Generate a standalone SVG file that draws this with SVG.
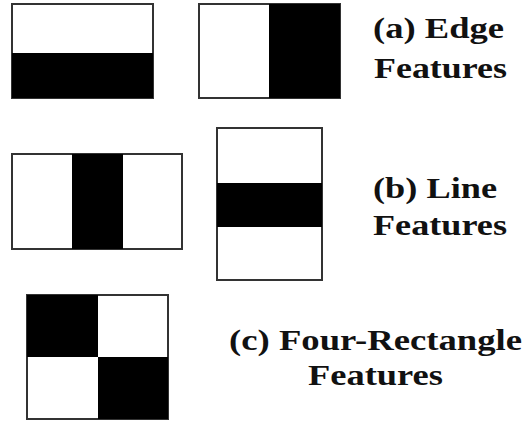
<svg xmlns="http://www.w3.org/2000/svg" width="524" height="421" viewBox="0 0 524 421">
<style>
.box{fill:#fff;stroke:#333;stroke-width:2}
.blk{fill:#000}
.lbl{font-family:"Liberation Serif","Times New Roman",serif;font-weight:bold;font-size:29px;fill:#111}
</style>
<rect width="524" height="421" fill="#fff"/>
<g id="edge-h">
<rect class="box" x="12" y="4" width="141" height="94"/>
<rect class="blk" x="12" y="53" width="141" height="45"/>
</g>
<g id="edge-v">
<rect class="box" x="199" y="4" width="141" height="94"/>
<rect class="blk" x="269" y="4" width="71" height="94"/>
</g>
<g id="line-v">
<rect class="box" x="12" y="154" width="170" height="95"/>
<rect class="blk" x="72" y="154" width="51" height="95"/>
</g>
<g id="line-h">
<rect class="box" x="217" y="128" width="105" height="152"/>
<rect class="blk" x="217" y="183" width="105" height="44"/>
</g>
<g id="four-rect">
<rect class="box" x="27" y="295" width="141" height="124"/>
<rect class="blk" x="27" y="295" width="71" height="62"/>
<rect class="blk" x="98" y="357" width="70" height="62"/>
</g>
<g id="labels">
<text class="lbl" x="373" y="38" textLength="131" lengthAdjust="spacingAndGlyphs">(a) Edge</text>
<text class="lbl" x="374" y="78" textLength="133" lengthAdjust="spacingAndGlyphs">Features</text>
<text class="lbl" x="373" y="198" textLength="124" lengthAdjust="spacingAndGlyphs">(b) Line</text>
<text class="lbl" x="373" y="235" textLength="134" lengthAdjust="spacingAndGlyphs">Features</text>
<text class="lbl" x="229" y="350" textLength="293" lengthAdjust="spacingAndGlyphs">(c) Four-Rectangle</text>
<text class="lbl" x="308" y="385" textLength="135" lengthAdjust="spacingAndGlyphs">Features</text>
</g>
</svg>
